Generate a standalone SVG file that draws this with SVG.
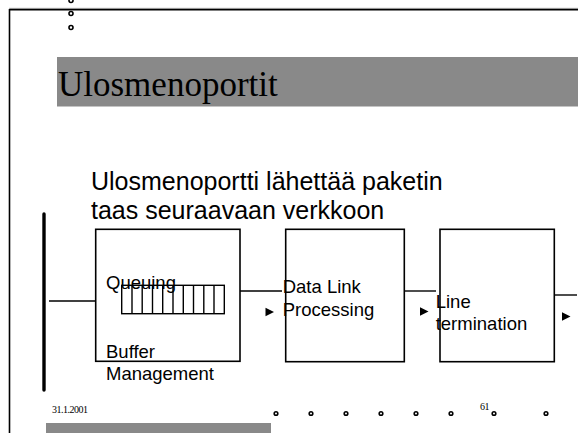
<svg xmlns="http://www.w3.org/2000/svg" width="578" height="433" viewBox="0 0 578 433">
  <defs>
    <style>
      .frame { stroke: #000; stroke-width: 1.6; fill: none; }
      .box { fill: #fff; stroke: #000; stroke-width: 1.6; }
      .wire { stroke: #000; stroke-width: 1.4; fill: none; }
      .dot { fill: #fff; stroke: #000; stroke-width: 1.6; }
      .band { fill: #898989; }
      .title { font-family: "Liberation Serif", "Times New Roman", serif; font-size: 35px; fill: #000; }
      .body { font-family: "Liberation Sans", Arial, sans-serif; font-size: 25px; fill: #000; }
      .label { font-family: "Liberation Sans", Arial, sans-serif; font-size: 18.5px; fill: #000; }
      .foot { font-family: "Liberation Serif", "Times New Roman", serif; font-size: 10px; fill: #000; letter-spacing: -0.5px; }
      .head { fill: #000; }
    </style>
    <path id="tri" d="M0,-4.2 L8.5,0 L0,4.2 Z"/>
  </defs>

  <rect width="578" height="433" fill="#fff"/>

  <!-- slide frame -->
  <line x1="9" y1="8.3" x2="578" y2="8.3" stroke="#bbb" stroke-width="1"/>
  <line class="frame" x1="9.5" y1="9.6" x2="578" y2="9.6"/>
  <line class="frame" x1="9.5" y1="9" x2="9.5" y2="433"/>

  <!-- decorative dots -->
  <g id="dots-top">
    <circle class="dot" cx="71" cy="0.5" r="2"/>
    <circle class="dot" cx="71" cy="13.5" r="2"/>
    <circle class="dot" cx="71" cy="27.5" r="2"/>
  </g>

  <!-- title band -->
  <g id="title">
    <rect class="band" x="57" y="57" width="521" height="49.5"/>
    <text class="title" x="58" y="96">Ulosmenoportit</text>
  </g>

  <g id="body-text">
    <text class="body" x="91" y="190">Ulosmenoportti lähettää paketin</text>
    <text class="body" x="91" y="219">taas seuraavaan verkkoon</text>
  </g>

  <!-- switch fabric bus -->
  <line x1="44" y1="214" x2="44" y2="390" stroke="#000" stroke-width="3.4" stroke-linecap="round"/>

  <!-- connectors -->
  <g id="connectors">
    <line class="wire" x1="49" y1="301" x2="110" y2="301"/>
    <line class="wire" x1="240" y1="291" x2="282" y2="291"/>
    <line class="wire" x1="404" y1="291" x2="436" y2="291"/>
    <line class="wire" x1="554" y1="295" x2="577" y2="295"/>
    <use href="#tri" class="head" x="97" y="323"/>
    <use href="#tri" class="head" x="265.5" y="312"/>
    <use href="#tri" class="head" x="420" y="311.5"/>
    <use href="#tri" class="head" x="562" y="316.5"/>
  </g>

  <g id="buffer-management">
    <rect class="box" x="95.7" y="229.3" width="144.3" height="132"/>
    <g class="wire">
      <rect x="121.7" y="285.3" width="102.6" height="28.4"/>
      <line x1="132" y1="285.3" x2="132" y2="313.7"/>
      <line x1="142.2" y1="285.3" x2="142.2" y2="313.7"/>
      <line x1="152.5" y1="285.3" x2="152.5" y2="313.7"/>
      <line x1="162.7" y1="285.3" x2="162.7" y2="313.7"/>
      <line x1="173" y1="285.3" x2="173" y2="313.7"/>
      <line x1="183.3" y1="285.3" x2="183.3" y2="313.7"/>
      <line x1="193.5" y1="285.3" x2="193.5" y2="313.7"/>
      <line x1="203.8" y1="285.3" x2="203.8" y2="313.7"/>
      <line x1="214" y1="285.3" x2="214" y2="313.7"/>
    </g>
    <text class="label" x="106" y="289">Queuing</text>
    <text class="label" x="106" y="358">Buffer</text>
    <text class="label" x="106" y="380">Management</text>
  </g>

  <g id="data-link-processing">
    <rect class="box" x="285.7" y="229.3" width="118.6" height="132.4"/>
    <text class="label" x="282.7" y="293">Data Link</text>
    <text class="label" x="282.7" y="316">Processing</text>
  </g>

  <g id="line-termination">
    <rect class="box" x="440" y="229.3" width="114.3" height="132.4"/>
    <text class="label" x="435.7" y="308">Line</text>
    <text class="label" x="435.7" y="330">termination</text>
  </g>

  <!-- footer -->
  <g id="footer">
    <text class="foot" x="52" y="413">31.1.2001</text>
    <rect class="band" x="46" y="423" width="225" height="10"/>
    <circle class="dot" cx="276" cy="413.5" r="1.8"/>
    <circle class="dot" cx="311" cy="413.5" r="1.8"/>
    <circle class="dot" cx="346" cy="413.5" r="1.8"/>
    <circle class="dot" cx="381" cy="413.5" r="1.8"/>
    <circle class="dot" cx="416" cy="413.5" r="1.8"/>
    <circle class="dot" cx="451" cy="413.5" r="1.8"/>
    <text class="foot" x="480" y="410">61</text>
    <circle class="dot" cx="494" cy="413.5" r="1.8"/>
    <circle class="dot" cx="546" cy="413.5" r="1.8"/>
  </g>
</svg>
